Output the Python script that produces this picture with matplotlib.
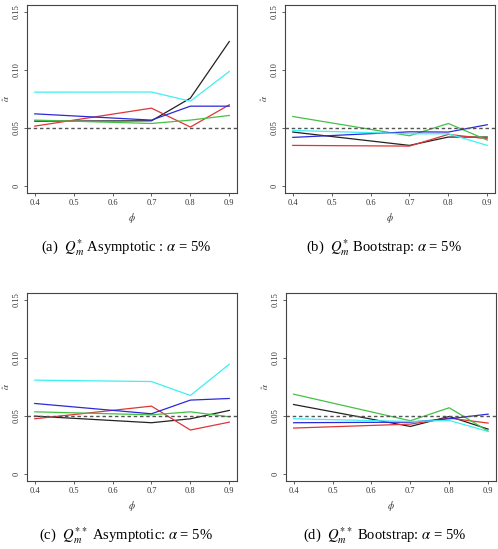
import numpy as np
import matplotlib.pyplot as plt

plt.rcParams['font.family'] = ['Liberation Serif', 'DejaVu Serif']
plt.rcParams['mathtext.fontset'] = 'stix'

# x positions (phi)
phi = [0.4, 0.7, 0.8, 0.9]

# (a) Q*_m asymptotic
a_black = [0.0559, 0.0562, 0.0757, 0.1245]
a_red = [0.0516, 0.0671, 0.0508, 0.0700]
a_green = [0.0568, 0.0539, 0.0568, 0.0608]
a_blue = [0.0622, 0.0568, 0.0688, 0.0688]
a_cyan = [0.0809, 0.0810, 0.0731, 0.0987]

# (b) Q*_m bootstrap
b_black = [0.0465, 0.0350, 0.0422, 0.0422]
b_red = [0.0350, 0.0344, 0.0445, 0.0407]
b_green = [0.0599, 0.0433, 0.0539, 0.0396]
b_blue = [0.0419, 0.0467, 0.0465, 0.0528]
b_cyan = [0.0479, 0.0450, 0.0450, 0.0350]

# (c) Q**_m asymptotic
c_black = [0.0499, 0.0442, 0.0476, 0.0548]
c_red = [0.0476, 0.0585, 0.0379, 0.0447]
c_green = [0.0536, 0.0510, 0.0536, 0.0493]
c_blue = [0.0608, 0.0519, 0.0637, 0.0651]
c_cyan = [0.0809, 0.0797, 0.0677, 0.0946]

# (d) Q**_m bootstrap
d_black = [0.0599, 0.0410, 0.0496, 0.0387]
d_red = [0.0396, 0.0430, 0.0482, 0.0439]
d_green = [0.0688, 0.0459, 0.0571, 0.0370]
d_blue = [0.0442, 0.0447, 0.0476, 0.0516]
d_cyan = [0.0476, 0.0453, 0.0462, 0.0367]

captions = [r'(a)  $Q_m^{*}$ Asymptotic : $\alpha$ = 5%',
            r'(b)  $Q_m^{*}$ Bootstrap: $\alpha$ = 5%',
            r'(c)  $Q_m^{**}$ Asymptotic: $\alpha$ = 5%',
            r'(d)  $Q_m^{**}$ Bootstrap: $\alpha$ = 5%']

panels = [
    [a_black, a_red, a_green, a_blue, a_cyan],
    [b_black, b_red, b_green, b_blue, b_cyan],
    [c_black, c_red, c_green, c_blue, c_cyan],
    [d_black, d_red, d_green, d_blue, d_cyan],
]
colors = ['#222222', '#e03535', '#45c045', '#2a2ad8', '#3ef0f0']

# axes boxes [left, bottom, width, height] in figure fractions
boxes = [
    [0.0542, 0.6485, 0.4218, 0.3424],
    [0.5723, 0.6485, 0.4217, 0.3424],
    [0.0542, 0.1239, 0.4218, 0.3424],
    [0.5740, 0.1239, 0.4217, 0.3424],
]

fig = plt.figure(figsize=(4.98, 5.49), dpi=100)

for i in range(4):
    ax = fig.add_axes(boxes[i])
    for vals, col in zip(panels[i], colors):
        ax.plot(phi, vals, color=col, lw=0.9)
    ax.axhline(0.05, color='#555555', lw=1.0, ls=(0, (2.5, 2)))
    ax.set_xlim(0.38, 0.92)
    ax.set_ylim(-0.006, 0.156)
    ax.set_xticks([0.4, 0.5, 0.6, 0.7, 0.8, 0.9])
    ax.set_xticklabels(['0.4', '0.5', '0.6', '0.7', '0.8', '0.9'])
    ax.set_yticks([0, 0.05, 0.10, 0.15])
    ax.set_yticklabels(['0', '0.05', '0.10', '0.15'], rotation=90, va='center')
    ax.tick_params(labelsize=6, length=2.5, width=0.6, color='#444444',
                   labelcolor='#333333', pad=2)
    for s in ax.spines.values():
        s.set_linewidth(0.8)
        s.set_color('#444444')
    ax.set_xlabel(r'$\phi$', fontsize=7, labelpad=3, color='#333333')
    ax.set_ylabel(r'$\hat{\alpha}$', fontsize=6.5, labelpad=0.5, color='#333333')
    ax.text(0.47, -0.29, captions[i], transform=ax.transAxes, ha='center',
            va='center', fontsize=10.5)

fig.savefig('out.png', dpi=100)
